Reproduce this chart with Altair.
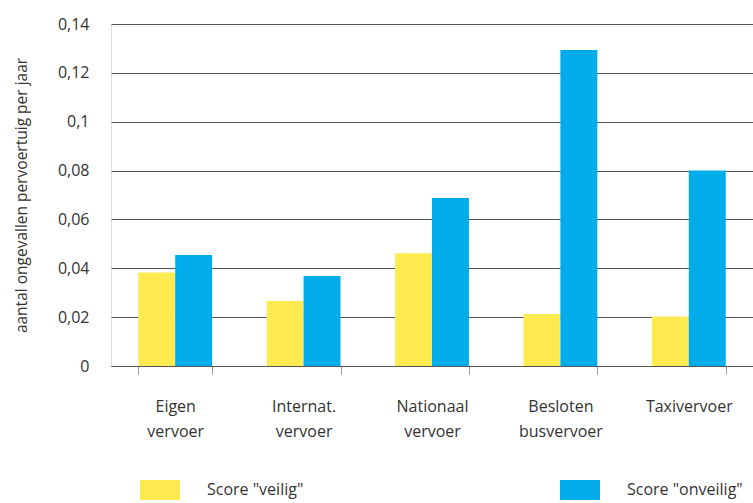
import altair as alt
import pandas as pd

categories = ["Eigen|vervoer", "Internat.|vervoer", "Nationaal|vervoer", "Besloten|busvervoer", "Taxivervoer"]
series = ['Score "veilig"', 'Score "onveilig"']
veilig = [0.0383, 0.0266, 0.0462, 0.0213, 0.0203]
onveilig = [0.0454, 0.0368, 0.0688, 0.1294, 0.0800]
y_ticks = [0, 0.02, 0.04, 0.06, 0.08, 0.1, 0.12, 0.14]
colors = ["#FFEA50", "#00ACEA"]

rows = []
for c, a, b in zip(categories, veilig, onveilig):
    rows.append({"cat": c, "serie": series[0], "val": a})
    rows.append({"cat": c, "serie": series[1], "val": b})
df = pd.DataFrame(rows)

FONT = "Open Sans"
TXT = "#333333"

chart = alt.Chart(df).mark_bar().encode(
    x=alt.X("cat:N", sort=categories,
            scale=alt.Scale(paddingInner=0.425, paddingOuter=0.2125),
            axis=alt.Axis(title=None, labelAngle=0, tickBand="extent",
                          labelExpr="split(datum.label, '|')",
                          labelLineHeight=25, labelFontSize=16, labelColor=TXT,
                          labelFont=FONT, tickSize=8, tickColor="#999999",
                          domainColor="#555555", labelPadding=24, grid=False)),
    xOffset=alt.XOffset("serie:N", sort=series, scale=alt.Scale(paddingInner=0, paddingOuter=0)),
    y=alt.Y("val:Q", scale=alt.Scale(domain=[0, 0.14], nice=False),
            axis=alt.Axis(title="aantal ongevallen pervoertuig per jaar",
                          values=y_ticks, domain=False, ticks=False,
                          labelExpr="replace(toString(datum.value), '.', ',')",
                          labelFontSize=16, labelColor=TXT, labelFont=FONT,
                          labelPadding=22, grid=True, gridColor="#555555",
                          titleFont=FONT, titleFontSize=15.5, titleFontWeight="normal",
                          titleColor=TXT, titlePadding=28)),
    color=alt.Color("serie:N", sort=series,
                    scale=alt.Scale(domain=series, range=colors),
                    legend=alt.Legend(title=None, orient="none", legendX=29, legendY=446,
                                      direction="horizontal", columns=2, columnPadding=256,
                                      symbolType="M-1,-0.5H1V0.5H-1Z", symbolSize=1600,
                                      symbolStrokeWidth=0, labelOffset=27,
                                      labelFontSize=16, labelFont=FONT, labelColor=TXT,
                                      padding=0)),
).properties(
    width=642, height=342,
    autosize=alt.AutoSizeParams(type="none"),
    padding={"left": 111, "top": 24, "right": 0, "bottom": 137},
).configure_view(stroke=None).configure(background="white")

chart.save("out.html", embed_options={"renderer": "svg", "actions": False})
